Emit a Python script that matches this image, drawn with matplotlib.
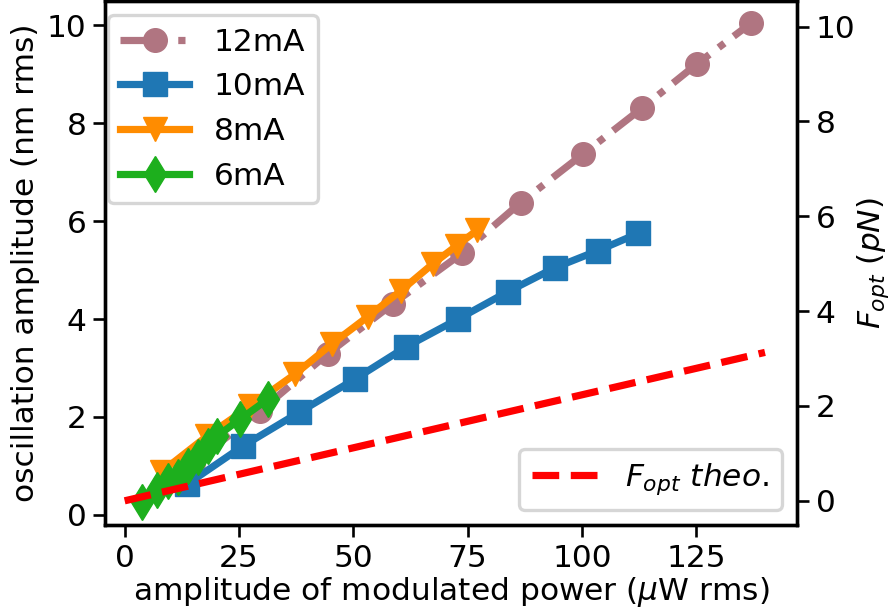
import matplotlib
matplotlib.use("Agg")
import matplotlib.pyplot as plt

# 12mA, 10mA, 8mA, 6mA series: modulated power (uW rms) vs amplitude (nm rms)
p12 = [15.0, 29.5, 44.4, 58.6, 73.7, 86.6, 100.2, 113.1, 125.2, 137.0]
a12 = [1.05, 2.11, 3.29, 4.31, 5.34, 6.38, 7.37, 8.31, 9.22, 10.05]

p10 = [13.6, 25.8, 38.1, 50.3, 61.5, 72.9, 83.8, 94.1, 103.5, 112.3]
a10 = [0.62, 1.40, 2.09, 2.77, 3.43, 4.00, 4.56, 5.05, 5.40, 5.75]

p8 = [8.1, 17.9, 27.4, 37.2, 45.3, 53.2, 60.4, 67.4, 72.6, 77.0]
a8 = [0.88, 1.60, 2.22, 2.87, 3.49, 4.05, 4.58, 5.13, 5.50, 5.81]

p6 = [3.7, 7.0, 9.4, 11.6, 13.8, 16.0, 18.2, 20.1, 25.2, 31.3]
a6 = [0.27, 0.51, 0.68, 0.78, 0.99, 1.17, 1.40, 1.60, 1.95, 2.36]

# theoretical optical force (pN), right axis
p_theo = [0, 140]
f_theo = [0, 3.13]

FS = 22.5
LW = 5.2
MS = 17

plt.rcParams.update({
    "font.size": FS,
    "axes.linewidth": 2.4,
    "xtick.major.size": 8.4,
    "ytick.major.size": 8.4,
    "xtick.major.width": 1.9,
    "ytick.major.width": 1.9,
    "xtick.major.pad": 5,
    "ytick.major.pad": 5,
})

fig = plt.figure(figsize=(8.94, 6.10), dpi=100)
ax = fig.add_axes([105 / 894, 1 - 525 / 610, 692 / 894, 524 / 610])
ax2 = ax.twinx()

ax.plot(p12, a12, "-.", marker="o", color="#b07581", lw=LW, ms=MS,
        label="12mA")
ax.plot(p10, a10, "-", marker="s", color="#1f77b4", lw=LW, ms=MS,
        label="10mA")
ax.plot(p8, a8, "-", marker="v", color="#ff8c00", lw=LW, ms=MS,
        label="8mA")
ax.plot(p6, a6, "-", marker="d", color="#1daf1d", lw=LW, ms=MS + 1,
        label="6mA")
ax2.plot(p_theo, f_theo, "--", color="red", lw=LW,
         label=r"$F_{opt}\ theo.$")

ax.set_xlim(-4.3, 147)
ax.set_ylim(-0.21, 10.5)
ax2.set_ylim(-0.51, 10.54)
ax.set_xticks([0, 25, 50, 75, 100, 125])
ax.set_yticks([0, 2, 4, 6, 8, 10])
ax2.set_yticks([0, 2, 4, 6, 8, 10])

ax.set_xlabel(r"amplitude of modulated power ($\mu$W rms)", labelpad=2)
ax.set_ylabel("oscillation amplitude (nm rms)", labelpad=5)
ax2.set_ylabel(r"$F_{opt}\ (pN)$", labelpad=0)

leg = ax.legend(loc="upper left", bbox_to_anchor=(0.004, 0.973),
                borderaxespad=0, handlelength=2.2, fontsize=FS)
leg.get_frame().set_linewidth(2.4)
leg2 = ax2.legend(loc="lower right", bbox_to_anchor=(0.978, 0.029),
                  borderaxespad=0, handlelength=2.2, fontsize=FS)
leg2.get_frame().set_linewidth(2.4)

fig.savefig("out.png", dpi=100, facecolor="white")
